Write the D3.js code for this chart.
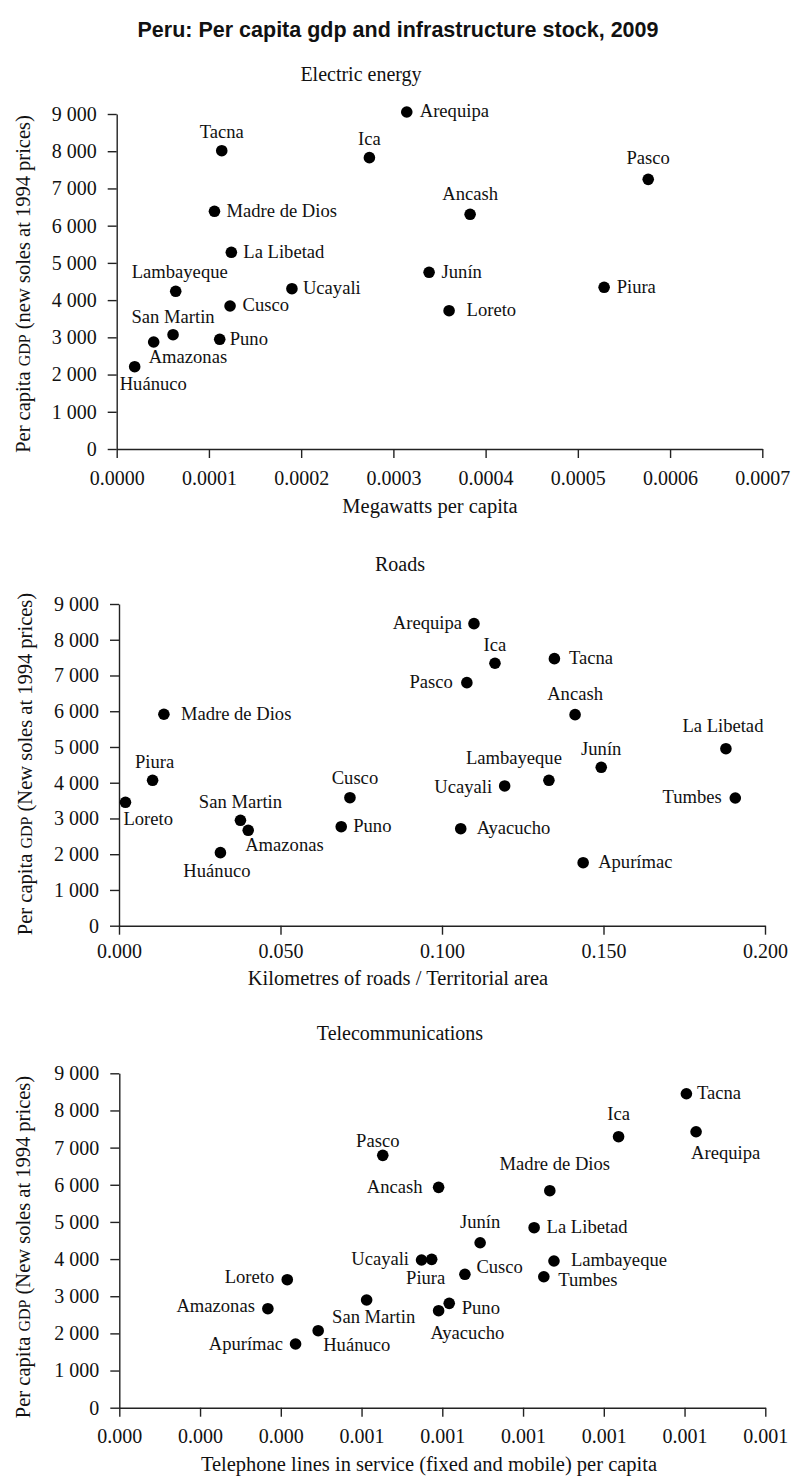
<!DOCTYPE html>
<html><head><meta charset="utf-8">
<script src="https://cdn.jsdelivr.net/npm/d3@7"></script>
<style>
body{margin:0;background:#fff;}
svg text{font-family:"Liberation Serif","Times New Roman",serif;fill:#111;}
</style></head>
<body>
<svg id="chart" width="793" height="1477"></svg>
<script>
// ---------- DATA ----------
const title = "Peru: Per capita gdp and infrastructure stock, 2009";

// Electric energy
const energyRegions = ["Arequipa","Ica","Tacna","Pasco","Ancash","Madre de Dios","La Libetad","Lambayeque","Ucayali","Cusco","San Martin","Amazonas","Puno","Huánuco","Junín","Piura","Loreto"];
const energyMW = [0.0003145,0.000274,0.0001139,0.0005763,0.0003832,0.000106,0.0001243,0.000064,0.00019,0.0001229,0.0000611,0.0000401,0.0001117,0.0000195,0.0003387,0.0005285,0.0003604];
const energyGDP = [9054,7827,8014,7245,6305,6386,5285,4237,4307,3842,3071,2875,2947,2211,4747,4344,3716];
const energyTicks = [0,0.0001,0.0002,0.0003,0.0004,0.0005,0.0006,0.0007];

// Roads
const roadRegions = ["Arequipa","Ica","Tacna","Pasco","Ancash","Madre de Dios","La Libetad","Junín","Piura","Lambayeque","Ucayali","Cusco","Tumbes","Loreto","San Martin","Puno","Ayacucho","Amazonas","Huánuco","Apurímac"];
const roadKm = [0.1099,0.1164,0.1348,0.1077,0.1412,0.0139,0.1879,0.1493,0.0104,0.1331,0.1194,0.0715,0.1908,0.0020,0.0376,0.0688,0.1058,0.0400,0.0314,0.1437];
const roadGDP = [8450,7342,7471,6799,5904,5915,4952,4432,4068,4068,3909,3581,3573,3452,2949,2770,2714,2669,2043,1763];
const roadTicks = [0,0.05,0.10,0.15,0.20];

// Telecommunications
const telRegions = ["Tacna","Arequipa","Ica","Pasco","Ancash","Madre de Dios","La Libetad","Junín","Ucayali","Piura","Lambayeque","Cusco","Tumbes","Loreto","San Martin","Puno","Amazonas","Ayacucho","Huánuco","Apurímac"];
const telLines = [0.001229,0.001250,0.001082,0.000571,0.000692,0.000933,0.000899,0.000782,0.000655,0.000677,0.000942,0.000749,0.000920,0.000364,0.000536,0.000715,0.000322,0.000692,0.000431,0.000382];
const telGDP = [8450,7427,7293,6792,5931,5840,4844,4440,3975,3993,3948,3590,3525,3445,2898,2809,2664,2610,2072,1714];
const telTicks = [0,0.000175,0.00035,0.000525,0.0007,0.000875,0.00105,0.001225,0.0014];

const gdpTicks = [0,1000,2000,3000,4000,5000,6000,7000,8000,9000];

// ---------- LABEL PLACEMENT (dx, dy, anchor) ----------
const energyLabelPos = [[13,5,"start"],[0,-13,"middle"],[0,-13,"middle"],[0,-15,"middle"],[0,-14,"middle"],[12,5.5,"start"],[12,5.5,"start"],[4,-13,"middle"],[11,5.5,"start"],[12.5,5.5,"start"],[0,-11.5,"middle"],[-5,21,"start"],[10,5.5,"start"],[-15,23,"start"],[12.5,5.5,"start"],[12.5,5.5,"start"],[17.5,5.5,"start"]];
const roadLabelPos = [[-12,5,"end"],[0,-12,"middle"],[14.5,5.5,"start"],[-14,5.5,"end"],[0,-14.5,"middle"],[17,5.5,"start"],[-3,-17,"middle"],[0,-12.5,"middle"],[2,-12,"middle"],[13,-16,"end"],[-12.5,7,"end"],[5,-14,"middle"],[-13.5,5.5,"end"],[-2,22.5,"start"],[0,-12.5,"middle"],[12,5.5,"start"],[16,5,"start"],[-3,21,"start"],[-3.5,24,"middle"],[15,5.5,"start"]];
const telLabelPos = [[10.5,5.5,"start"],[-5,27.5,"start"],[0,-16.5,"middle"],[-5,-8,"middle"],[-16,6,"end"],[5,-20.5,"middle"],[12.5,5,"start"],[0,-14.5,"middle"],[-12.5,5,"end"],[-6,24.5,"middle"],[17,5,"start"],[11.5,-1,"start"],[14.5,9,"start"],[-13,3,"end"],[7,23,"middle"],[12.5,10.5,"start"],[-13,3,"end"],[-8,28.5,"start"],[5,20,"start"],[-12.5,6,"end"]];

// ---------- DRAW ----------
const svg = d3.select("#chart");
const fmtGDP = d3.formatLocale({decimal:".",thousands:" ",grouping:[3],currency:["",""]}).format(",");

svg.append("text").attr("x",398).attr("y",37).attr("text-anchor","middle")
  .style("font-family","'Liberation Sans',Arial,sans-serif").style("font-weight","bold").style("font-size","21.5px")
  .text(title);

function panel(cfg){
  const x = d3.scaleLinear().domain(cfg.xDomain).range(cfg.xRange);
  const y = d3.scaleLinear().domain([0,9000]).range(cfg.yRange);
  const g = svg.append("g");

  g.append("text").attr("x",cfg.subX).attr("y",cfg.subY).attr("text-anchor","middle")
    .style("font-size","20px").text(cfg.sub);

  const xa = g.append("g").attr("transform",`translate(0,${cfg.yRange[0]})`)
    .call(d3.axisBottom(x).tickValues(cfg.xTicks).tickFormat(d3.format(cfg.xFmt)).tickSize(9).tickSizeOuter(0).tickPadding(cfg.xPad));
  xa.selectAll("text").style("font-size","20px").attr("dy","0.71em");
  const ya = g.append("g").attr("transform",`translate(${cfg.xRange[0]},0)`)
    .call(d3.axisLeft(y).tickValues(gdpTicks).tickFormat(fmtGDP).tickSize(9).tickSizeOuter(0).tickPadding(11));
  ya.selectAll("text").style("font-size","20px");
  g.selectAll(".domain, .tick line").attr("stroke","#222").attr("stroke-width",1.4);
  g.selectAll(".tick text").style("fill","#111").style("font-family","'Liberation Serif',serif");

  g.append("text").attr("x",cfg.xtX).attr("y",cfg.xtY).attr("text-anchor","middle")
    .style("font-size","20.5px").text(cfg.xTitle);

  const yt = g.append("text").attr("transform",`translate(${cfg.ytX},${cfg.ytY}) rotate(-90)`)
    .attr("text-anchor","middle").style("font-size","20.5px");
  yt.append("tspan").text("Per capita ");
  yt.append("tspan").style("font-size","16px").text("GDP");
  yt.append("tspan").text(cfg.yTitleRest);

  const pts = cfg.names.map((n,i)=>({n, xv:cfg.xs[i], yv:cfg.ys[i], lp:cfg.lp[i]}));
  g.selectAll("circle.pt").data(pts).join("circle").attr("class","pt")
    .attr("cx",d=>x(d.xv)).attr("cy",d=>y(d.yv)).attr("r",5.8).attr("fill","#000");
  g.selectAll("text.lbl").data(pts).join("text").attr("class","lbl")
    .attr("x",d=>x(d.xv)+d.lp[0]).attr("y",d=>y(d.yv)+d.lp[1]).attr("text-anchor",d=>d.lp[2])
    .style("font-size","18.6px").text(d=>d.n);
}

panel({sub:"Electric energy", subX:361, subY:81,
  xDomain:[0,0.0007], xRange:[116.7,762.3], yRange:[449,114], xTicks:energyTicks, xFmt:".4f", xPad:12.5,
  xTitle:"Megawatts per capita", xtX:430, xtY:513,
  ytX:29.5, ytY:284, yTitleRest:" (new soles at 1994 prices)",
  names:energyRegions, xs:energyMW, ys:energyGDP, lp:energyLabelPos});

panel({sub:"Roads", subX:400, subY:571,
  xDomain:[0,0.2], xRange:[119,765], yRange:[925.7,604], xTicks:roadTicks, xFmt:".3f", xPad:9.5,
  xTitle:"Kilometres of roads / Territorial area", xtX:398, xtY:985,
  ytX:31.5, ytY:764, yTitleRest:" (New soles at 1994 prices)",
  names:roadRegions, xs:roadKm, ys:roadGDP, lp:roadLabelPos});

panel({sub:"Telecommunications", subX:400, subY:1040,
  xDomain:[0,0.0014], xRange:[119.3,765.3], yRange:[1407.7,1073.3], xTicks:telTicks, xFmt:".3f", xPad:12,
  xTitle:"Telephone lines in service (fixed and mobile) per capita", xtX:429, xtY:1471,
  ytX:29.5, ytY:1247, yTitleRest:" (New soles at 1994 prices)",
  names:telRegions, xs:telLines, ys:telGDP, lp:telLabelPos});
</script>
</body></html>
